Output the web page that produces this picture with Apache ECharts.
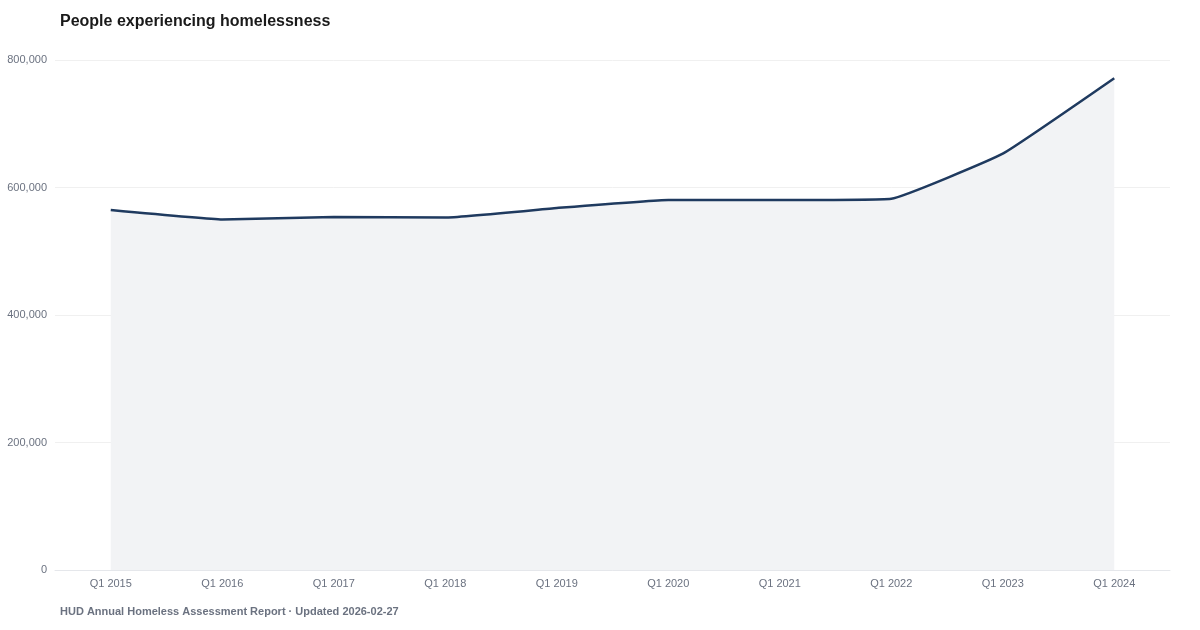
<!DOCTYPE html>
<html>
<head>
<meta charset="utf-8">
<script src="https://cdn.jsdelivr.net/npm/echarts@6/dist/echarts.min.js"></script>
<style>
html,body{margin:0;padding:0;background:#fff;}
#c{width:1200px;height:630px;}
</style>
</head>
<body>
<div id="c"></div>
<script>
const categories = ['Q1 2015','Q1 2016','Q1 2017','Q1 2018','Q1 2019','Q1 2020','Q1 2021','Q1 2022','Q1 2023','Q1 2024'];
const values = [564708, 549928, 553742, 552830, 567715, 580466, 580466, 582462, 653104, 771480];
const titleText = 'People experiencing homelessness';
const footerText = 'HUD Annual Homeless Assessment Report · Updated 2026-02-27';

const chart = echarts.init(document.getElementById('c'), null, {renderer:'canvas'});
const font = '"Liberation Sans", Arial, Helvetica, sans-serif';
chart.setOption({
  animation:false,
  backgroundColor:'#ffffff',
  title:[
    {text:titleText,left:55,top:9,textStyle:{fontFamily:font,fontSize:16,fontWeight:'bold',color:'#1a1a1a'}},
    {text:footerText,left:55,top:601,textStyle:{fontFamily:font,fontSize:11,fontWeight:'bold',color:'#6b7280'}}
  ],
  grid:{left:55,right:30,top:60,bottom:60,containLabel:false},
  xAxis:{
    type:'category',data:categories,boundaryGap:true,
    axisLine:{show:true,lineStyle:{color:'#e5e7eb'}},
    axisTick:{show:false},
    axisLabel:{fontFamily:font,fontSize:11,color:'#6b7280',margin:8},
    splitLine:{show:false}
  },
  yAxis:{
    type:'value',min:0,max:800000,interval:200000,
    axisLine:{show:false},axisTick:{show:false},
    axisLabel:{fontFamily:font,fontSize:11,color:'#6b7280',margin:8,
      formatter:v=>v.toLocaleString('en-US')},
    splitLine:{lineStyle:{color:'#f0f0f0',width:1}}
  },
  series:[{
    type:'line',data:values,smooth:0.1,symbol:'none',
    lineStyle:{color:'#1f3a5f',width:2.5},
    areaStyle:{color:'#f2f3f5',opacity:1}
  }]
});
</script>
</body>
</html>
